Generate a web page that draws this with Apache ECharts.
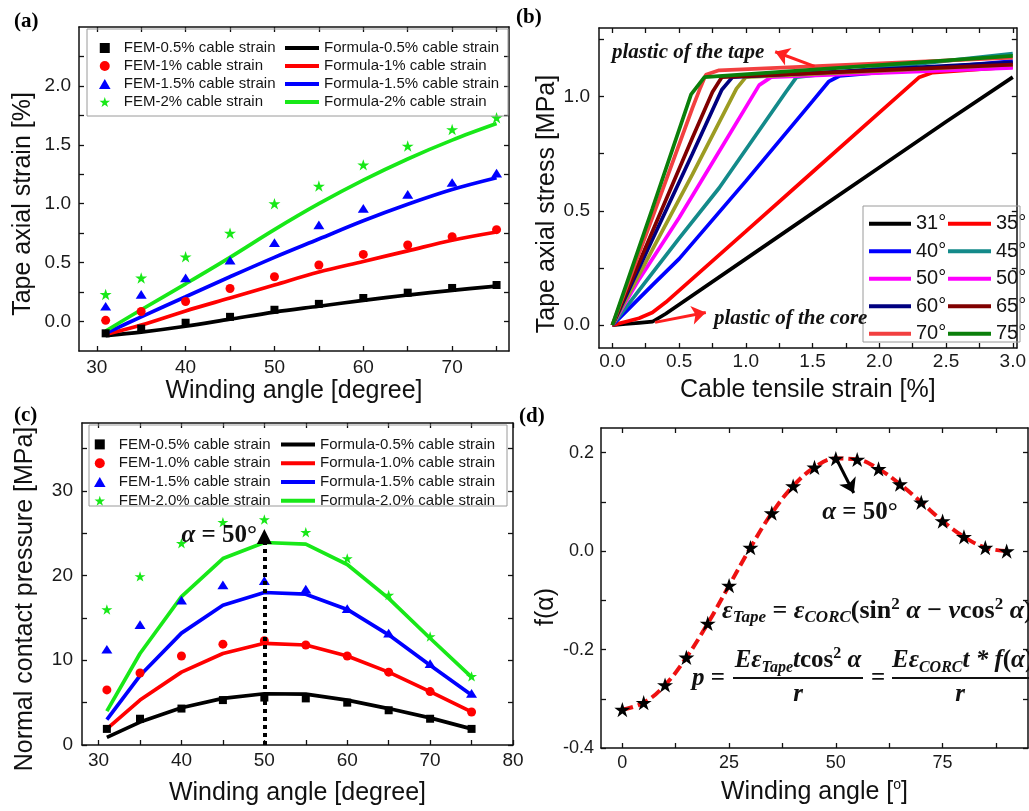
<!DOCTYPE html>
<html>
<head>
<meta charset="utf-8">
<script src="https://cdn.jsdelivr.net/npm/echarts@6/dist/echarts.min.js"></script>
<style>
  html, body { margin: 0; padding: 0; background: #fff; }
  #chart { width: 1029px; height: 811px; }
</style>
</head>
<body>
<div id="chart"></div>
<script>
// ---------- (a) tape axial strain vs winding angle ----------
const anglesA = [31, 35, 40, 45, 50, 55, 60, 65, 70, 75];
const femA05 = [-0.10, -0.06, -0.01, 0.04, 0.10, 0.15, 0.20, 0.245, 0.285, 0.31];
const femA10 = [0.01, 0.085, 0.17, 0.28, 0.38, 0.48, 0.57, 0.65, 0.72, 0.78];
const femA15 = [0.13, 0.23, 0.37, 0.52, 0.67, 0.82, 0.96, 1.08, 1.18, 1.26];
const femA20 = [0.23, 0.37, 0.55, 0.75, 1.00, 1.15, 1.33, 1.49, 1.63, 1.73];
const fmlA05 = [-0.12, -0.09, -0.04, 0.02, 0.08, 0.13, 0.18, 0.225, 0.265, 0.30];
const fmlA10 = [-0.11, -0.03, 0.09, 0.20, 0.31, 0.42, 0.51, 0.60, 0.69, 0.76];
const fmlA15 = [-0.10, 0.04, 0.21, 0.38, 0.545, 0.70, 0.855, 0.995, 1.12, 1.22];
const fmlA20 = [-0.08, 0.10, 0.32, 0.545, 0.78, 1.00, 1.20, 1.38, 1.54, 1.68];
const namesFemA = ['FEM-0.5% cable strain', 'FEM-1% cable strain', 'FEM-1.5% cable strain', 'FEM-2% cable strain'];
const namesFmlA = ['Formula-0.5% cable strain', 'Formula-1% cable strain', 'Formula-1.5% cable strain', 'Formula-2% cable strain'];
const labelsAX = [30, 40, 50, 60, 70];
const ticksAX = [30, 35, 40, 45, 50, 55, 60, 65, 70, 75];
const labelsAY = [0, 0.5, 1.0, 1.5, 2.0];
const ticksAY = [0, 0.25, 0.5, 0.75, 1.0, 1.25, 1.5, 1.75, 2.0, 2.25];

// ---------- (b) tape axial stress vs cable tensile strain ----------
const curve31 = [[0, 0], [0.1, 0.005], [0.2, 0.01], [0.3, 0.015], [0.4, 0.05], [1.0, 0.29], [1.5, 0.49], [2.0, 0.69], [2.5, 0.89], [3.0, 1.085]];
const curve35 = [[0, 0], [0.1, 0.015], [0.2, 0.03], [0.3, 0.055], [0.4, 0.10], [1.0, 0.41], [1.5, 0.67], [2.0, 0.93], [2.3, 1.085], [2.4, 1.105], [3.0, 1.13]];
const curve40 = [[0, 0], [0.3, 0.175], [0.5, 0.29], [1.0, 0.63], [1.5, 0.98], [1.62, 1.065], [1.7, 1.09], [3.0, 1.155]];
const curve45 = [[0, 0], [0.25, 0.19], [0.5, 0.38], [0.8, 0.60], [1.3, 1.02], [1.38, 1.085], [3.0, 1.188]];
const curve50 = [[0, 0], [0.2, 0.20], [0.5, 0.47], [0.8, 0.76], [1.1, 1.05], [1.19, 1.085], [3.0, 1.125]];
const curve55 = [[0, 0], [0.3, 0.33], [0.6, 0.66], [0.93, 1.035], [1.0, 1.085], [3.0, 1.14]];
const curve60 = [[0, 0], [0.3, 0.375], [0.6, 0.75], [0.82, 1.03], [0.9, 1.085], [3.0, 1.15]];
const curve65 = [[0, 0], [0.3, 0.41], [0.6, 0.82], [0.75, 1.02], [0.82, 1.085], [3.0, 1.14]];
const curve70 = [[0, 0], [0.3, 0.47], [0.6, 0.95], [0.66, 1.04], [0.7, 1.095], [0.8, 1.115], [3.0, 1.17]];
const curve75 = [[0, 0], [0.3, 0.51], [0.59, 1.01], [0.69, 1.085], [3.0, 1.178]];
const curvesB = [curve31, curve35, curve40, curve45, curve50, curve55, curve60, curve65, curve70, curve75];
const namesB = ['31°', '35°', '40°', '45°', '50°', '55°', '60°', '65°', '70°', '75°'];
const legendTextB = ['31°', '35°', '40°', '45°', '50°', '50°', '60°', '65°', '70°', '75°'];
const colorsB = ['#000000', '#ff0000', '#0000ff', '#138a8a', '#ff00ff', '#9c9c22', '#000080', '#800000', '#f24040', '#0a7f0a'];
const labelsBX = [0, 0.5, 1.0, 1.5, 2.0, 2.5, 3.0];
const ticksBX = [0, 0.25, 0.5, 0.75, 1.0, 1.25, 1.5, 1.75, 2.0, 2.25, 2.5, 2.75, 3.0];
const labelsBY = [0, 0.5, 1.0];
const ticksBY = [0, 0.25, 0.5, 0.75, 1.0, 1.25];
const tapeArrowB = [[1.515, 1.132], [1.22, 1.196]];
const coreArrowB = [[0.32, 0.012], [0.70, 0.055]];

// ---------- (c) normal contact pressure vs winding angle ----------
const anglesC = [31, 35, 40, 45, 50, 55, 60, 65, 70, 75];
const femC05 = [1.9, 3.1, 4.3, 5.3, 5.6, 5.5, 5.0, 4.1, 3.1, 1.9];
const femC10 = [6.5, 8.5, 10.5, 11.9, 12.3, 11.8, 10.5, 8.6, 6.3, 3.9];
const femC15 = [11.3, 14.2, 17.1, 18.9, 19.4, 18.4, 16.1, 13.2, 9.6, 6.1];
const femC20 = [16.0, 19.9, 23.8, 26.3, 26.6, 25.1, 22.0, 17.7, 12.8, 8.1];
const fmlC05 = [0.9, 2.7, 4.4, 5.5, 6.05, 6.0, 5.3, 4.3, 3.2, 1.9];
const fmlC10 = [1.9, 5.3, 8.6, 10.8, 12.0, 11.8, 10.5, 8.6, 6.3, 3.9];
const fmlC15 = [3.0, 8.2, 13.2, 16.5, 18.0, 17.8, 16.0, 13.0, 9.4, 5.9];
const fmlC20 = [4.0, 10.8, 17.5, 22.0, 23.9, 23.7, 21.3, 17.3, 12.6, 8.0];
const namesFemC = ['FEM-0.5% cable strain', 'FEM-1.0% cable strain', 'FEM-1.5% cable strain', 'FEM-2.0% cable strain'];
const namesFmlC = ['Formula-0.5% cable strain', 'Formula-1.0% cable strain', 'Formula-1.5% cable strain', 'Formula-2.0% cable strain'];
const peakArrowC = [[50, 0], [50, 24.6]];
const labelsCX = [30, 40, 50, 60, 70, 80];
const ticksCX = [30, 35, 40, 45, 50, 55, 60, 65, 70, 75, 80];
const labelsCY = [0, 10, 20, 30];
const ticksCY = [0, 5, 10, 15, 20, 25, 30, 35];

// ---------- (d) f(alpha) vs winding angle ----------
const anglesD = [0, 5, 10, 15, 20, 25, 30, 35, 40, 45, 50, 55, 60, 65, 70, 75, 80, 85, 90];
const fAlpha = [-0.322, -0.308, -0.272, -0.216, -0.147, -0.070, 0.007, 0.077, 0.132, 0.170, 0.188, 0.186, 0.167, 0.136, 0.099, 0.061, 0.029, 0.007, 0.000];
const peakArrowD = [[50.2, 0.186], [54.2, 0.118]];
const labelsDX = [0, 25, 50, 75];
const ticksDX = [0, 12.5, 25, 37.5, 50, 62.5, 75, 87.5];
const labelsDY = [-0.4, -0.2, 0.0, 0.2];
const ticksDY = [-0.4, -0.3, -0.2, -0.1, 0.0, 0.1, 0.2];

// ---------- shared styling ----------
const SANS = '"Liberation Sans", Arial, sans-serif';
const SERIF = '"Liberation Serif", "Times New Roman", serif';
const STAR = 'path://M50,0L61.8,36.2L100,36.2L69.1,58.8L80.9,95.1L50,72.7L19.1,95.1L30.9,58.8L0,36.2L38.2,36.2Z';
const TRI = 'path://M50,0L100,86.6L0,86.6Z';
const SQUARE = 'path://M0,0H10V10H0Z';
const C_BLACK = '#000000', C_RED = '#ff0000', C_BLUE = '#0000ff', C_GREEN = '#18e818';

const pairs = (xs, ys) => xs.map((x, i) => [x, ys[i]]);

const grids = [
  { left: 79, top: 27, width: 430, height: 324 },
  { left: 599, top: 28, width: 421, height: 320 },
  { left: 82, top: 423, width: 431, height: 322 },
  { left: 601, top: 428, width: 427, height: 320 }
];

const xAxes = [], yAxes = [];
function frame(g, c) {
  const line = { show: true, onZero: false, lineStyle: { color: '#111', width: 1.5 } };
  const tick = vals => ({ show: true, inside: true, length: 5, customValues: vals, lineStyle: { color: '#111', width: 1.3 } });
  const label = (vals, fmt, margin) => ({ show: true, customValues: vals, formatter: fmt, fontSize: c.fs, color: '#1a1a1a', fontFamily: SANS, margin: margin });
  const nameStyle = (extra) => Object.assign({ fontSize: 25, color: '#111', fontFamily: SANS }, extra || {});
  xAxes.push({
    type: 'value', gridIndex: g, position: 'bottom', min: c.x.min, max: c.x.max,
    axisLine: line, axisTick: tick(c.x.ticks), axisLabel: label(c.x.labels, c.x.fmt, c.x.margin),
    splitLine: { show: false }, name: c.x.name, nameLocation: 'middle', nameGap: c.x.gap,
    nameTextStyle: nameStyle(c.x.nameStyle)
  });
  xAxes.push({
    type: 'value', gridIndex: g, position: 'top', min: c.x.min, max: c.x.max,
    axisLine: line, axisTick: tick(c.x.ticks), axisLabel: { show: false }, splitLine: { show: false }
  });
  yAxes.push({
    type: 'value', gridIndex: g, position: 'left', min: c.y.min, max: c.y.max,
    axisLine: line, axisTick: tick(c.y.ticks), axisLabel: label(c.y.labels, c.y.fmt, c.y.margin),
    splitLine: { show: false }, name: c.y.name, nameLocation: 'middle', nameGap: c.y.gap,
    nameTextStyle: nameStyle({ padding: [0, c.y.shift * 2, 0, 0] })
  });
  yAxes.push({
    type: 'value', gridIndex: g, position: 'right', min: c.y.min, max: c.y.max,
    axisLine: line, axisTick: tick(c.y.ticks), axisLabel: { show: false }, splitLine: { show: false }
  });
}

const f1 = v => v.toFixed(1);
const f0 = v => String(Math.round(v));

frame(0, {
  fs: 19,
  x: { min: 28, max: 76.4, labels: labelsAX, ticks: ticksAX, fmt: f0, margin: 7, name: 'Winding angle [degree]', gap: 28 },
  y: { min: -0.25, max: 2.5, labels: labelsAY, ticks: ticksAY, fmt: f1, margin: 8, name: 'Tape axial strain [%]', gap: 43, shift: 15 }
});
frame(1, {
  fs: 19,
  x: { min: -0.1, max: 3.03, labels: labelsBX, ticks: ticksBX, fmt: f1, margin: 4, name: 'Cable tensile strain [%]', gap: 30 },
  y: { min: -0.1, max: 1.3, labels: labelsBY, ticks: ticksBY, fmt: f1, margin: 9, name: 'Tape axial stress [MPa]', gap: 34, shift: 16 }
});
frame(2, {
  fs: 19,
  x: { min: 28, max: 80, labels: labelsCX, ticks: ticksCX, fmt: f0, margin: 6, name: 'Winding angle [degree]', gap: 36 },
  y: { min: 0, max: 38, labels: labelsCY, ticks: ticksCY, fmt: f0, margin: 9, name: 'Normal contact pressure [MPa]', gap: 44, shift: 15 }
});
frame(3, {
  fs: 18,
  x: { min: -5, max: 95, labels: labelsDX, ticks: ticksDX, fmt: f0, margin: 6, name: 'Winding angle [{sup|o}]', gap: 30,
       nameStyle: { lineHeight: 28, rich: { sup: { fontSize: 14, lineHeight: 14, verticalAlign: 'top', fontFamily: SANS, color: '#111' } } } },
  y: { min: -0.4, max: 0.25, labels: labelsDY, ticks: ticksDY, fmt: f1, margin: 7, name: 'f(α)', gap: 41, shift: 19 }
});

const series = [];
function lineSeries(g, name, data, color, smooth) {
  series.push({
    type: 'line', name: name, xAxisIndex: 2 * g, yAxisIndex: 2 * g, data: data,
    smooth: smooth, showSymbol: false, symbol: 'none',
    lineStyle: { color: color, width: 3.7 }, itemStyle: { color: color }, z: 2
  });
}
function scatterSeries(g, name, data, color, symbol, size) {
  series.push({
    type: 'scatter', name: name, xAxisIndex: 2 * g, yAxisIndex: 2 * g, data: data,
    symbol: symbol, symbolSize: size, symbolKeepAspect: true,
    itemStyle: { color: color, opacity: 1 }, z: 3
  });
}
function arrowLines(color, width, dash, headSize, head, segments) {
  return {
    silent: true, symbol: ['none', head], symbolSize: headSize,
    lineStyle: { color: color, width: width, type: dash, opacity: 1 },
    itemStyle: { color: color },
    label: { show: false }, emphasis: { disabled: true },
    data: segments.map(s => [{ coord: s[0] }, { coord: s[1] }])
  };
}

// (a)
const colorsA = [C_BLACK, C_RED, C_BLUE, C_GREEN];
[fmlA05, fmlA10, fmlA15, fmlA20].forEach((d, i) => lineSeries(0, namesFmlA[i], pairs(anglesA, d), colorsA[i], 0.35));
const symA = [[SQUARE, 8], ['circle', 9], [TRI, [11, 10]], [STAR, 12]];
[femA05, femA10, femA15, femA20].forEach((d, i) => scatterSeries(0, namesFemA[i], pairs(anglesA, d), colorsA[i], symA[i][0], symA[i][1]));

// (b)
curvesB.forEach((d, i) => lineSeries(1, namesB[i], d, colorsB[i], false));
series[series.length - 1].markLine = arrowLines('#ff2020', 3, 'solid', 14, 'arrow', [tapeArrowB, coreArrowB]);

// (c)
[fmlC05, fmlC10, fmlC15, fmlC20].forEach((d, i) => lineSeries(2, namesFmlC[i], pairs(anglesC, d), colorsA[i], false));
const symC = [[SQUARE, 8], ['circle', 9], [TRI, [11, 10]], [STAR, 11]];
[femC05, femC10, femC15, femC20].forEach((d, i) => scatterSeries(2, namesFemC[i], pairs(anglesC, d), colorsA[i], symC[i][0], symC[i][1]));
series[series.length - 5].markLine = arrowLines('#000', 4, [4, 4], 15, 'triangle', [peakArrowC]);

// (d)
series.push({
  type: 'line', name: 'f(α)', xAxisIndex: 6, yAxisIndex: 6, data: pairs(anglesD, fAlpha),
  smooth: 0.4, symbol: STAR, symbolSize: 16, symbolKeepAspect: true, showSymbol: true,
  lineStyle: { color: '#ee1111', width: 4, type: [11, 5] },
  itemStyle: { color: '#000' }, z: 3,
  markLine: arrowLines('#000', 3, 'solid', 14, 'arrow', [peakArrowD])
});

// legends
const femLegend = (left, top, names, icons, pitch) => ({
  orient: 'vertical', left: left, top: top, itemWidth: 28, itemHeight: 10, itemGap: 0,
  selectedMode: false, symbolKeepAspect: true,
  textStyle: { fontSize: 15, lineHeight: pitch, color: '#151515', fontFamily: SANS },
  data: names.map((n, i) => ({ name: n, icon: icons[i] }))
});
const fmlLegend = (left, top, names, pitch) => ({
  orient: 'vertical', left: left, top: top, itemWidth: 34, itemHeight: 4, itemGap: 0,
  selectedMode: false, icon: 'rect',
  textStyle: { fontSize: 15, lineHeight: pitch, color: '#151515', fontFamily: SANS },
  data: names
});
const femIcons = [SQUARE, 'circle', TRI, STAR];
const legendB = (left, idx, width) => ({
  orient: 'vertical', left: left, top: 205, itemWidth: width, itemHeight: 4, itemGap: 0,
  selectedMode: false, icon: 'rect',
  textStyle: { fontSize: 20, lineHeight: 27.5, color: '#151515', fontFamily: SANS },
  formatter: name => legendTextB[namesB.indexOf(name)],
  data: idx.map(i => i === 5 ? { name: namesB[i], itemStyle: { color: colorsB[4] } } : namesB[i])
});
const legends = [
  femLegend(94, 34, namesFemA, femIcons, 18),
  fmlLegend(280, 34, namesFmlA, 18),
  legendB(864, [0, 2, 4, 6, 8], 42),
  legendB(943, [1, 3, 5, 7, 9], 43),
  femLegend(89, 430, namesFemC, femIcons, 18.8),
  fmlLegend(276, 430, namesFmlC, 18.8)
];

// text and frames drawn on top of the plots
const boxStyle = { fill: 'rgba(255,255,255,0)', stroke: '#9a9a9a', lineWidth: 1 };
const mathRich = size => ({
  e: { font: 'bold italic ' + size + 'px ' + SERIF, fill: '#111', lineHeight: 30, verticalAlign: 'middle' },
  n: { font: 'bold ' + size + 'px ' + SERIF, fill: '#111', lineHeight: 30, verticalAlign: 'middle' },
  sub: { font: 'bold italic ' + Math.round(size * 0.64) + 'px ' + SERIF, fill: '#111', lineHeight: 12, verticalAlign: 'bottom' },
  sup: { font: 'bold ' + Math.round(size * 0.64) + 'px ' + SERIF, fill: '#111', lineHeight: 14, verticalAlign: 'top' }
});
const graphics = [
  { type: 'rect', shape: { x: 87, y: 29, width: 421, height: 87 }, style: boxStyle, z: 50 },
  { type: 'rect', shape: { x: 863, y: 206, width: 157, height: 136 }, style: boxStyle, z: 50 },
  { type: 'rect', shape: { x: 89, y: 425, width: 418, height: 81 }, style: boxStyle, z: 50 },
  { type: 'text', x: 14, y: 11, style: { text: '(a)', font: 'bold 21px ' + SERIF, fill: '#000' }, z: 50 },
  { type: 'text', x: 516, y: 7, style: { text: '(b)', font: 'bold 21px ' + SERIF, fill: '#000' }, z: 50 },
  { type: 'text', x: 14, y: 405, style: { text: '(c)', font: 'bold 21px ' + SERIF, fill: '#000' }, z: 50 },
  { type: 'text', x: 519, y: 406, style: { text: '(d)', font: 'bold 21px ' + SERIF, fill: '#000' }, z: 50 },
  { type: 'text', x: 612, y: 53, style: { text: 'plastic of the tape', font: 'bold italic 21px ' + SERIF, fill: '#111', verticalAlign: 'middle' }, z: 50 },
  { type: 'text', x: 714, y: 319, style: { text: 'plastic of the core', font: 'bold italic 21px ' + SERIF, fill: '#111', verticalAlign: 'middle' }, z: 50 },
  { type: 'text', x: 257, y: 536, style: { text: '{e|α}{n| = 50°}', rich: mathRich(25), align: 'right', verticalAlign: 'middle' }, z: 50 },
  { type: 'text', x: 860, y: 513, style: { text: '{e|α}{n| = 50°}', rich: mathRich(25), align: 'center', verticalAlign: 'middle' }, z: 50 },
  { type: 'text', x: 722, y: 611, style: { text: '{e|ε}{sub|Tape}{n| = }{e|ε}{sub|CORC}{n|(sin}{sup|2}{e| α}{n| − }{e|ν}{n|cos}{sup|2}{e| α}{n|)}', rich: mathRich(26), verticalAlign: 'middle' }, z: 50 },
  { type: 'text', x: 692, y: 679, style: { text: '{e|p}{n| =}', rich: mathRich(25), verticalAlign: 'middle' }, z: 50 },
  { type: 'text', x: 798, y: 661, style: { text: '{e|Eε}{sub|Tape}{e|t}{n|cos}{sup|2}{e| α}', rich: mathRich(25), align: 'center', verticalAlign: 'middle' }, z: 50 },
  { type: 'line', shape: { x1: 733, y1: 678, x2: 863, y2: 678 }, style: { stroke: '#111', lineWidth: 2 }, z: 50 },
  { type: 'text', x: 798, y: 695, style: { text: '{e|r}', rich: mathRich(25), align: 'center', verticalAlign: 'middle' }, z: 50 },
  { type: 'text', x: 878, y: 679, style: { text: '{n|=}', rich: mathRich(25), align: 'center', verticalAlign: 'middle' }, z: 50 },
  { type: 'text', x: 892, y: 661, style: { text: '{e|Eε}{sub|CORC}{e|t * f}{n|(}{e|α}{n|)}', rich: mathRich(25), verticalAlign: 'middle' }, z: 50 },
  { type: 'line', shape: { x1: 892, y1: 678, x2: 1030, y2: 678 }, style: { stroke: '#111', lineWidth: 2 }, z: 50 },
  { type: 'text', x: 960, y: 695, style: { text: '{e|r}', rich: mathRich(25), align: 'center', verticalAlign: 'middle' }, z: 50 }
];

const chart = echarts.init(document.getElementById('chart'), null, { renderer: 'canvas' });
chart.setOption({
  animation: false,
  backgroundColor: '#ffffff',
  textStyle: { fontFamily: SANS },
  grid: grids,
  xAxis: xAxes,
  yAxis: yAxes,
  legend: legends,
  series: series,
  graphic: graphics
});
</script>
</body>
</html>
